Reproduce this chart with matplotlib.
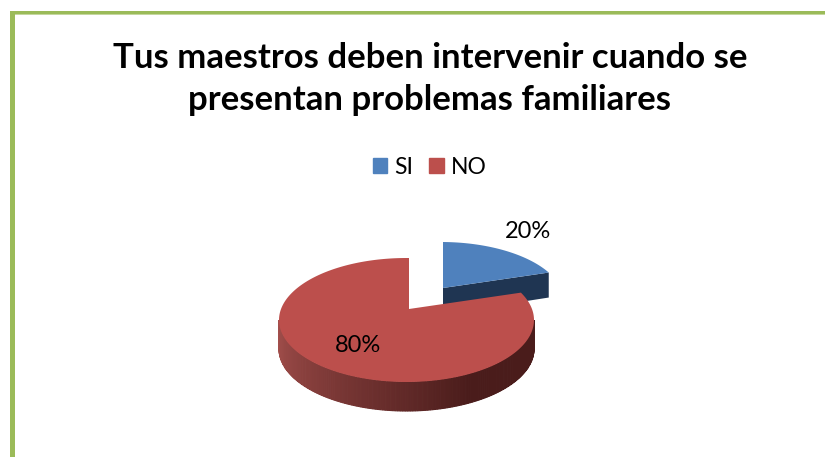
#!/usr/bin/env python3
"""3D-look exploded pie: Tus maestros deben intervenir..."""

import numpy as np
import matplotlib
matplotlib.use("Agg")
import matplotlib.pyplot as plt
from matplotlib.colors import to_rgb
from matplotlib.patches import Rectangle

title = "Tus maestros deben intervenir cuando se\npresentan problemas familiares"
categories = ["SI", "NO"]
values = [20, 80]
value_labels = ["20%", "80%"]

BLUE = "#4f81bd"
BLUE_SIDE = "#1f3552"
RED = "#bc4f4c"
RED_SIDE_LIGHT = "#a5504d"
RED_SIDE_DARK = "#4a1c1b"
GREEN = "#9bbb59"
FONT = "Lato"
SQUASH = 0.45


def ray_to_ellipse(apex, ellipse, t):
    """Point where the ray from the apex at pie angle t meets the rim ellipse."""
    ax_, ay_ = apex
    cx, cy, a, b = ellipse
    dx, dy = np.cos(t), -SQUASH * np.sin(t)
    px, py = (ax_ - cx) / a, (ay_ - cy) / b
    qx, qy = dx / a, dy / b
    A = qx**2 + qy**2
    B = 2 * (px * qx + py * qy)
    C = px**2 + py**2 - 1
    s = (-B + np.sqrt(B**2 - 4 * A * C)) / (2 * A)
    return ax_ + s * dx, ay_ + s * dy


def rim(apex, ellipse, frac_start, frac_end, n=200):
    # fractions run clockwise from 12 o'clock
    ts = np.pi / 2 - 2 * np.pi * np.linspace(frac_start, frac_end, n)
    pts = [ray_to_ellipse(apex, ellipse, t) for t in ts]
    return np.array(pts)


fig = plt.figure(figsize=(8.25, 4.57), dpi=100, facecolor="white")
ax = fig.add_axes([0, 0, 1, 1])
ax.set_xlim(0, 825)
ax.set_ylim(457, 0)
ax.axis("off")

# slide frame
ax.add_patch(Rectangle((10, 11), 815, 3.2, color=GREEN, lw=0))
ax.add_patch(Rectangle((10, 14.2), 815, 1, color="#c5d79f", lw=0))
ax.add_patch(Rectangle((10, 11), 5.2, 446, color=GREEN, lw=0))

frac_si = values[0] / sum(values)

# NO slice
apex_no = (409, 309)
ell_no = (406.5, 320, 127.5, 62)
depth_no = 29
c0, c1 = np.array(to_rgb(RED_SIDE_LIGHT)), np.array(to_rgb(RED_SIDE_DARK))
ts = np.linspace(np.pi, 2 * np.pi, 160)
cx, cy, a, b = ell_no
for i in range(len(ts) - 1):
    tt = np.linspace(ts[i], ts[i + 1], 4)
    x = cx + a * np.cos(tt)
    y = cy - b * np.sin(tt)
    u = i / (len(ts) - 2)
    col = c0 + (c1 - c0) * min(1, u * 1.5)
    ax.fill(np.r_[x, x[::-1]], np.r_[y, y[::-1] + depth_no], facecolor=col, edgecolor=col, lw=0.8, zorder=2)

rim_no = rim(apex_no, ell_no, frac_si, 1.0)
ax.fill(np.r_[apex_no[0], rim_no[:, 0]], np.r_[apex_no[1], rim_no[:, 1]], color=RED, lw=0, zorder=3)

# SI slice, pulled out
apex_si = (443, 288)
ell_si = (441, 301, 123, 59)
depth_si = 25
rim_si = rim(apex_si, ell_si, 0, frac_si)
end = rim_si[-1]
ax.fill([apex_si[0], end[0], end[0], apex_si[0]],
        [apex_si[1], end[1], end[1] + depth_si, apex_si[1] + depth_si + 1],
        color=BLUE_SIDE, lw=0, zorder=1)
ax.fill(np.r_[apex_si[0], rim_si[:, 0]], np.r_[apex_si[1], rim_si[:, 1]], color=BLUE, lw=0, zorder=1.5)

# labels
ax.text(528, 231, value_labels[0], fontsize=17, family=FONT, ha="center", va="center", color="black", zorder=5)
ax.text(358, 345, value_labels[1], fontsize=17, family=FONT, ha="center", va="center", color="black", zorder=5)

ax.text(430, 79, title, fontsize=25, family=FONT, fontweight="bold", ha="center", va="center",
        linespacing=1.36, color="black")

# legend
handles = [Rectangle((0, 0), 1, 1, color=BLUE), Rectangle((0, 0), 1, 1, color=RED)]
ax.legend(handles, categories, loc="center", bbox_to_anchor=(429.5 / 825, 1 - 167 / 457), ncol=2,
          frameon=False, handlelength=0.62, handleheight=0.62, handletextpad=0.3, columnspacing=0.72,
          borderpad=0, prop={"family": FONT, "size": 16.5})

fig.savefig("out.png", dpi=100, facecolor="white")
